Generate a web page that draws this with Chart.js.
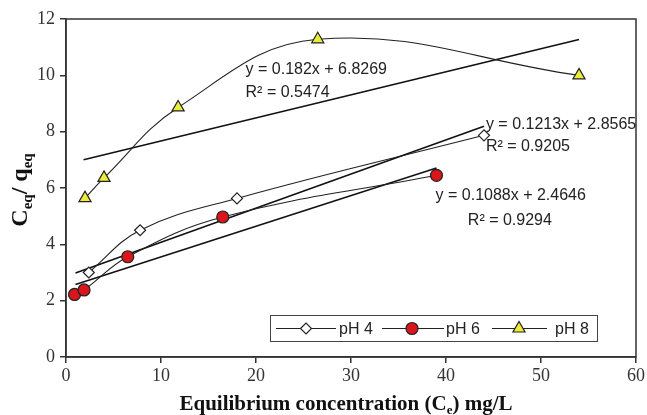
<!DOCTYPE html>
<html>
<head>
<meta charset="utf-8">
<script src="https://cdn.jsdelivr.net/npm/chart.js@4/dist/chart.umd.min.js"></script>
<style>
  html, body { margin: 0; padding: 0; background: #fff; }
  #wrap { width: 647px; height: 415px; }
</style>
</head>
<body>
<div id="wrap"><canvas id="chart"></canvas></div>
<script>
// measured points (Ce, Ce/qe)
const ph4X = [2.4, 7.8, 18.0, 44.0];
const ph4Y = [3.0, 4.5, 5.63, 7.87];
const ph6X = [0.9, 1.9, 6.5, 16.5, 39.0];
const ph6Y = [2.22, 2.38, 3.56, 4.97, 6.45];
const ph8X = [2.0, 4.0, 11.8, 26.5, 54.0];
const ph8Y = [5.64, 6.36, 8.86, 11.28, 10.0];

// linear fits, end points as drawn in the figure
const fit4X = [1.0, 44.0];
const fit4Y = [2.98, 8.19];
const fit6X = [1.0, 39.0];
const fit6Y = [2.57, 6.71];
const fit8X = [1.85, 54.0];
const fit8Y = [7.0, 11.27];

const seriesNames = ["pH 4", "pH 6", "pH 8"];
const xTicks = [0, 10, 20, 30, 40, 50, 60];
const yTicks = [0, 2, 4, 6, 8, 10, 12];

// fit equations and where they sit (data units, left edge of text)
const fitText = ["y = 0.182x + 6.8269", "R\u00B2 = 0.5474",
                 "y = 0.1213x + 2.8565", "R\u00B2 = 0.9205",
                 "y = 0.1088x + 2.4646", "R\u00B2 = 0.9294"];
const fitTextX = [18.9, 18.9, 44.2, 44.2, 38.9, 42.3];
const fitTextY = [10.2, 9.4, 8.26, 7.46, 5.74, 4.86];

const toPoints = (xs, ys) => xs.map((x, i) => ({ x: x, y: ys[i] }));

const ink = "#222";

const series = [
  { label: seriesNames[0], data: toPoints(ph4X, ph4Y), pointStyle: "rectRot", pointRadius: 5.5,
    pointBackgroundColor: "#ffffff" },
  { label: seriesNames[1], data: toPoints(ph6X, ph6Y), pointStyle: "circle", pointRadius: 6,
    pointBackgroundColor: "#d8161c" },
  { label: seriesNames[2], data: toPoints(ph8X, ph8Y), pointStyle: "triangle", pointRadius: 7,
    pointBackgroundColor: "#ecec3a" }
].map(s => Object.assign(s, {
  borderColor: ink,
  borderWidth: 1.1,
  pointBorderColor: ink,
  pointBorderWidth: 1.2,
  tension: 0.4,
  fill: false
}));

const fits = [toPoints(fit4X, fit4Y), toPoints(fit6X, fit6Y), toPoints(fit8X, fit8Y)].map(d => ({
  label: "fit",
  data: d,
  borderColor: "#111",
  borderWidth: 1.6,
  pointRadius: 0,
  tension: 0,
  fill: false
}));

function drawSubText(ctx, parts, x, y, align) {
  // parts: [text, font, dy]
  let total = 0;
  parts.forEach(p => { ctx.font = p[1]; total += ctx.measureText(p[0]).width; });
  let cx = align === "center" ? x - total / 2 : x;
  parts.forEach(p => {
    ctx.font = p[1];
    ctx.fillText(p[0], cx, y + p[2]);
    cx += ctx.measureText(p[0]).width;
  });
}

const decor = {
  id: "decor",
  afterDraw(chart) {
    const ctx = chart.ctx;
    const ca = chart.chartArea;
    const xs = chart.scales.x, ys = chart.scales.y;
    ctx.save();

    // frame top/right
    ctx.strokeStyle = "#333";
    ctx.lineWidth = 1.5;
    ctx.strokeRect(ca.left, ca.top, ca.right - ca.left, ca.bottom - ca.top);

    // fit equations
    ctx.fillStyle = ink;
    ctx.font = "16px 'Liberation Sans', Arial, sans-serif";
    ctx.textBaseline = "middle";
    ctx.textAlign = "left";
    fitText.forEach((t, i) => {
      ctx.fillText(t, xs.getPixelForValue(fitTextX[i]), ys.getPixelForValue(fitTextY[i]));
    });

    // legend box
    const bx = ca.right - 366, by = ca.bottom - 42, bw = 327, bh = 26;
    ctx.fillStyle = "#fff";
    ctx.fillRect(bx, by, bw, bh);
    ctx.strokeStyle = "#444";
    ctx.lineWidth = 1;
    ctx.strokeRect(bx + 0.5, by + 0.5, bw, bh);
    const items = [[6, 66, 36, 69], [112, 174, 142, 176], [222, 277, 249, 285]];
    const cy = by + bh / 2 + 0.5;
    items.forEach((it, i) => {
      const ds = series[i];
      ctx.strokeStyle = ink;
      ctx.lineWidth = 1.1;
      ctx.beginPath();
      ctx.moveTo(bx + it[0], cy);
      ctx.lineTo(bx + it[1], cy);
      ctx.stroke();
      ctx.fillStyle = ds.pointBackgroundColor;
      ctx.strokeStyle = ink;
      ctx.lineWidth = 1.2;
      Chart.helpers.drawPoint(ctx, { pointStyle: ds.pointStyle, radius: ds.pointRadius, rotation: 0, borderWidth: 1.2 },
        bx + it[2], cy);
      ctx.fillStyle = ink;
      ctx.font = "16px 'Liberation Sans', Arial, sans-serif";
      ctx.textAlign = "left";
      ctx.textBaseline = "middle";
      ctx.fillText(ds.label, bx + it[3], cy + 1);
    });

    // axis titles
    const serifB = "bold 21px 'Liberation Serif', 'Times New Roman', serif";
    const serifBs = "bold 13px 'Liberation Serif', 'Times New Roman', serif";
    ctx.fillStyle = "#111";
    ctx.textBaseline = "alphabetic";
    ctx.textAlign = "left";
    drawSubText(ctx, [["Equilibrium concentration (C", serifB, 0], ["e", serifBs, 4], [") mg/L", serifB, 0]],
      (ca.left + ca.right) / 2 - 5, 410, "center");

    const serifY = "bold 24px 'Liberation Serif', 'Times New Roman', serif";
    const serifYs = "bold 15px 'Liberation Serif', 'Times New Roman', serif";
    ctx.translate(27, 190);
    ctx.rotate(-Math.PI / 2);
    drawSubText(ctx, [["C", serifY, 0], ["eq", serifYs, 5], ["/ q", serifY, 0], ["eq", serifYs, 5]], 0, 0, "center");

    ctx.restore();
  }
};

new Chart(document.getElementById("chart"), {
  type: "line",
  data: { datasets: series.concat(fits) },
  options: {
    responsive: true,
    maintainAspectRatio: false,
    animation: false,
    layout: { padding: { left: 0, top: 19, right: 10, bottom: 0 } },
    plugins: { legend: { display: false }, tooltip: { enabled: false } },
    scales: {
      x: {
        type: "linear",
        min: 0, max: 60,
        afterBuildTicks: s => { s.ticks = xTicks.map(v => ({ value: v })); },
        afterFit: s => { s.height = 58; },
        ticks: { color: "#333", padding: 2, font: { family: "'Liberation Serif', 'Times New Roman', serif", size: 18 } },
        grid: { drawOnChartArea: false, drawTicks: true, tickLength: 6, color: "#333", lineWidth: 1.5 },
        border: { color: "#333", width: 1.5 }
      },
      y: {
        type: "linear",
        min: 0, max: 12,
        afterBuildTicks: s => { s.ticks = yTicks.map(v => ({ value: v })); },
        afterFit: s => { s.width = 66; },
        ticks: { color: "#333", padding: 5, font: { family: "'Liberation Serif', 'Times New Roman', serif", size: 18 } },
        grid: { drawOnChartArea: false, drawTicks: true, tickLength: 6, color: "#333", lineWidth: 1.5 },
        border: { color: "#333", width: 1.5 }
      }
    }
  },
  plugins: [decor]
});
</script>
</body>
</html>
